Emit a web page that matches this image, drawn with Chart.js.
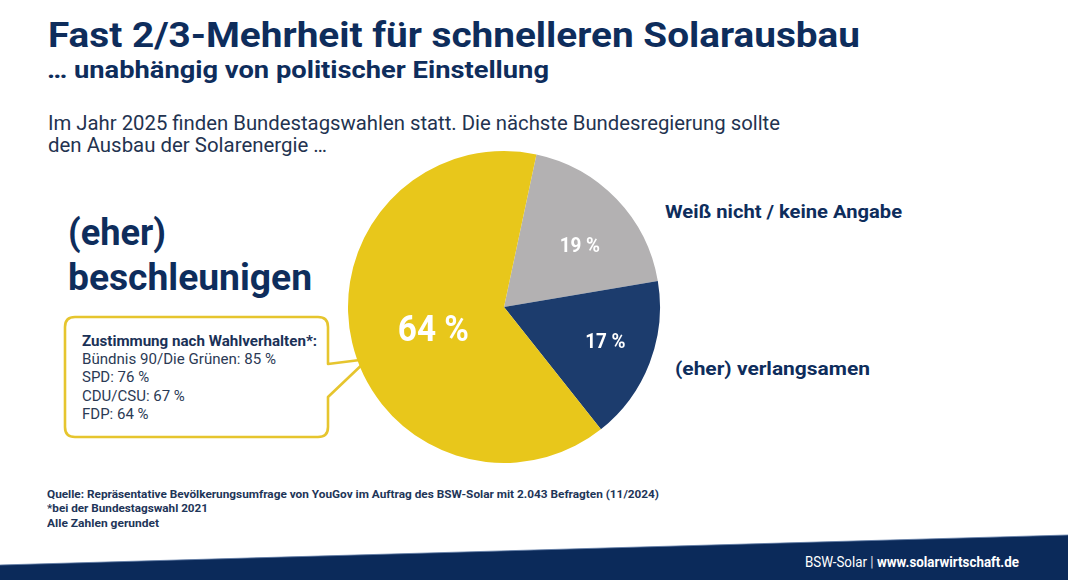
<!DOCTYPE html>
<html lang="de">
<head>
<meta charset="utf-8">
<script src="https://cdn.jsdelivr.net/npm/chart.js@4.4.1/dist/chart.umd.min.js"></script>
<style>
  html, body { margin: 0; padding: 0; background: #fff; }
  body { width: 1068px; height: 580px; position: relative; overflow: hidden; font-family: Roboto, "Noto Sans", sans-serif; }
  .t { position: absolute; white-space: nowrap; line-height: 1; transform-origin: 0 0; display: inline-block; }
  .navy { color: #0E2D5C; }
  .b { font-weight: 700; }
  #chartBox { position: absolute; left: 344px; top: 147px; width: 320px; height: 320px; }
  svg { position: absolute; left: 0; top: 0; }
</style>
</head>
<body>
<svg width="1068" height="580" viewBox="0 0 1068 580">
  <path d="M75 317 H318 Q328 317 328 327 V364 L368 359 L328 397 V427 Q328 437 318 437 H75 Q65 437 65 427 V327 Q65 317 75 317 Z"
        fill="#fff" stroke="#E6C52E" stroke-width="2.6" stroke-linejoin="round"/>
  <polygon points="0,565 1068,535 1068,580 0,580" fill="#0B2A5A"/>
  <line x1="0" y1="565" x2="1068" y2="535" stroke="#5F7BA6" stroke-width="0.8"/>
</svg>

<div id="chartBox"><canvas id="pie"></canvas></div>

<div class="t b navy" data-w="812" style="left:48px; top:17.6px; font-size:35px;">Fast 2/3-Mehrheit für schnelleren Solarausbau</div>
<div class="t b navy" data-w="502" style="left:47px; top:58.7px; font-size:23px;">… unabhängig von politischer Einstellung</div>
<div class="t" data-w="732" style="left:48px; top:113.4px; font-size:21px; color:#233350;">Im Jahr 2025 finden Bundestagswahlen statt. Die nächste Bundesregierung sollte</div>
<div class="t" data-w="279" style="left:48px; top:135.4px; font-size:21px; color:#233350;">den Ausbau der Solarenergie …</div>

<div class="t b navy" data-w="98" style="left:68px; top:214px; font-size:37px;">(eher)</div>
<div class="t b navy" data-w="244" style="left:68px; top:259px; font-size:37px;">beschleunigen</div>

<div class="t b navy" data-w="235" style="left:82px; top:334.4px; font-size:15px; color:#1A3157;">Zustimmung nach Wahlverhalten*:</div>
<div class="t" data-w="194" style="left:82px; top:352.4px; font-size:15px; color:#2B3A55;">Bündnis 90/Die Grünen: 85 %</div>
<div class="t" style="left:82px; top:370.4px; font-size:15px; color:#2B3A55;">SPD: 76 %</div>
<div class="t" style="left:82px; top:389.4px; font-size:15px; color:#2B3A55;">CDU/CSU: 67 %</div>
<div class="t" style="left:82px; top:407.4px; font-size:15px; color:#2B3A55;">FDP: 64 %</div>

<div class="t b navy" data-w="237" style="left:665px; top:202px; font-size:19px;">Weiß nicht / keine Angabe</div>
<div class="t b navy" data-w="195" style="left:675px; top:359px; font-size:19px;">(eher) verlangsamen</div>

<div class="t b" data-w="612" style="left:47px; top:488.8px; font-size:11px; color:#1E3558;">Quelle: Repräsentative Bevölkerungsumfrage von YouGov im Auftrag des BSW-Solar mit 2.043 Befragten (11/2024)</div>
<div class="t b" data-w="161" style="left:47px; top:502.8px; font-size:11px; color:#1E3558;">*bei der Bundestagswahl 2021</div>
<div class="t b" data-w="112" style="left:47px; top:517.8px; font-size:11px; color:#1E3558;">Alle Zahlen gerundet</div>

<div class="t" data-w="214" style="left:805px; top:555px; font-size:14px; color:#fff;">BSW-Solar <span style="opacity:0.85">|</span> <span class="b">www.solarwirtschaft.de</span></div>

<script>
// ---- data ----
const categories = ["Weiß nicht / keine Angabe", "(eher) verlangsamen", "(eher) beschleunigen"];
const values = [19, 17, 64];
const sliceColors = ["#B3B1B2", "#1C3C6D", "#E8C71B"];

// fit text widths to the reference
document.querySelectorAll('.t[data-w]').forEach(el => {
  const target = parseFloat(el.dataset.w);
  const w = el.getBoundingClientRect().width;
  if (w > 0) el.style.transform = 'scaleX(' + (target / w).toFixed(4) + ')';
});

const labelPlugin = {
  id: 'sliceLabels',
  afterDatasetsDraw(chart, args, opts) {
    const ctx = chart.ctx;
    const meta = chart.getDatasetMeta(0);
    meta.data.forEach((arc, i) => {
      const p = arc.getProps(['x', 'y', 'startAngle', 'endAngle', 'outerRadius'], true);
      const mid = (p.startAngle + p.endAngle) / 2 + opts.angleShift[i] * Math.PI / 180;
      const r = p.outerRadius * opts.radiusFrac[i];
      const x = p.x + Math.cos(mid) * r;
      const y = p.y + Math.sin(mid) * r;
      ctx.save();
      ctx.fillStyle = '#fff';
      ctx.font = '700 ' + opts.fontSize[i] + 'px Roboto, "Noto Sans", sans-serif';
      ctx.textAlign = 'center';
      ctx.textBaseline = 'middle';
      ctx.translate(x, y);
      ctx.scale(0.9, 1);
      ctx.fillText(values[i] + ' %', 0, 0);
      ctx.restore();
    });
  }
};

new Chart(document.getElementById('pie'), {
  type: 'pie',
  data: {
    labels: categories,
    datasets: [{
      data: values,
      backgroundColor: sliceColors,
      borderWidth: 0,
      radius: 156
    }]
  },
  options: {
    responsive: true,
    maintainAspectRatio: false,
    animation: false,
    rotation: 12,
    layout: { padding: 0 },
    plugins: {
      legend: { display: false },
      tooltip: { enabled: false },
      sliceLabels: { radiusFrac: [0.62, 0.69, 0.48], angleShift: [5.5, -1.4, -6.2], fontSize: [21, 21, 37] }
    }
  },
  plugins: [labelPlugin]
});
</script>
</body>
</html>
